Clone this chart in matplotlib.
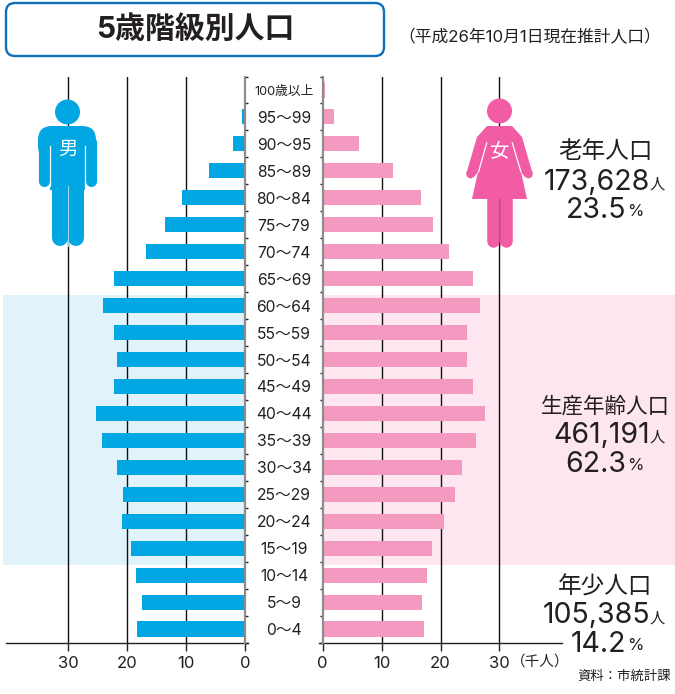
import matplotlib
matplotlib.use("Agg")
import matplotlib.pyplot as plt
from matplotlib.patches import Circle, FancyBboxPatch, Polygon, Rectangle

plt.rcParams['font.family'] = ['Inter', 'Noto Sans CJK JP', 'DejaVu Sans']

# data, youngest group first (thousands of people)
ages = ['0～4', '5～9', '10～14', '15～19', '20～24', '25～29', '30～34', '35～39',
        '40～44', '45～49', '50～54', '55～59', '60～64', '65～69', '70～74',
        '75～79', '80～84', '85～89', '90～95', '95～99', '100歳以上']
male = [18.3, 17.5, 18.5, 19.3, 20.8, 20.7, 21.7, 24.2, 25.3, 22.2, 21.7,
        22.2, 24.1, 22.2, 16.8, 13.6, 10.7, 6.1, 2.0, 0.5, 0.1]
female = [17.2, 16.9, 17.7, 18.6, 20.6, 22.5, 23.6, 26.0, 27.5, 25.5, 24.5,
          24.5, 26.7, 25.5, 21.4, 18.7, 16.7, 11.9, 6.2, 1.9, 0.4]
x_ticks = [0, 10, 20, 30]

BLUE = '#00a7e3'
PINK = '#f49ac1'
WOMAN = '#f15ca5'
W, H = 675, 694
INK = '#231f20'
GRAY = '#8c8c8c'


def px_axes(x0, y0, x1, y1, **kw):
    # axes placed by pixel box, y measured from the top
    return fig.add_axes([x0 / W, 1 - y1 / H, (x1 - x0) / W, (y1 - y0) / H], **kw)


fig = plt.figure(figsize=(W / 100, H / 100), dpi=100)

# background bands
bg = px_axes(0, 0, W, H, zorder=0)
bg.set_xlim(0, W)
bg.set_ylim(H, 0)
bg.axis('off')
bg.add_patch(Rectangle((3, 295), 242, 270, color='#e0f3fb', lw=0))
bg.add_patch(Rectangle((322, 295), 353, 270, color='#fde6f0', lw=0))

# male side
ax_m = px_axes(6, 76.5, 248.5, 642.5, zorder=1)
ax_m.patch.set_visible(False)
ax_m.barh(range(len(ages)), male, height=0.56, color=BLUE, zorder=3)
ax_m.set_xlim(40.5, -0.6)

# female side
ax_f = px_axes(319, 76.5, 562, 642.5, zorder=1)
ax_f.patch.set_visible(False)
ax_f.barh(range(len(ages)), female, height=0.56, color=PINK, zorder=3)
ax_f.set_xlim(-0.6, 40.6)

for ax in (ax_m, ax_f):
    ax.set_ylim(-0.5, 20.5)
    ax.set_xticks(x_ticks)
    ax.set_yticks([i - 0.5 for i in range(len(ages) + 1)])
    ax.set_yticklabels([])
    ax.tick_params(axis='x', length=6, width=1, color=INK, labelsize=12,
                   labelcolor=INK, pad=4)
    ax.tick_params(axis='y', length=2.5, width=1, color=INK)
    ax.spines['top'].set_visible(False)
    ax.spines['bottom'].set_linewidth(1)
    ax.spines['bottom'].set_color(INK)
    for v in x_ticks[1:]:
        ax.axvline(v, color='#111111', lw=1, zorder=2)

ax_m.spines['left'].set_visible(False)
ax_m.spines['right'].set_position(('data', 0))
ax_m.spines['right'].set_color(GRAY)
ax_m.spines['right'].set_linewidth(1.6)
ax_m.spines['right'].set_zorder(4)
ax_m.yaxis.tick_right()

ax_f.spines['right'].set_visible(False)
ax_f.spines['left'].set_position(('data', 0))
ax_f.spines['left'].set_color(GRAY)
ax_f.spines['left'].set_linewidth(1.6)
ax_f.spines['left'].set_zorder(4)

# everything else on a pixel overlay
fg = px_axes(0, 0, W, H, zorder=5)
fg.patch.set_visible(False)
fg.set_xlim(0, W)
fg.set_ylim(H, 0)
fg.axis('off')

# age labels between the two axes
for i, a in enumerate(ages):
    y = 630.5 - i * 26.95
    fs = 9.2 if a == '100歳以上' else 11.3
    fg.text(284, y, a, ha='center', va='center', fontsize=fs, color=INK)

# title box
fg.add_patch(FancyBboxPatch((12, 9), 366, 41, boxstyle='round,pad=6,rounding_size=9',
                            fc='white', ec='#0f6fb8', lw=1.7))
fg.text(195, 30, '5歳階級別人口', ha='center', va='center', fontsize=21.5,
        fontweight='bold', color=INK)
fg.text(530, 37, '（平成26年10月1日現在推計人口）', ha='center', va='center',
        fontsize=12.1, color=INK)

# man
fg.add_patch(Circle((67.5, 112), 12.5, color=BLUE, lw=0))
fg.add_patch(FancyBboxPatch((52, 140), 30, 6, boxstyle='round,pad=14,rounding_size=14',
                            fc=BLUE, ec='none'))
fg.add_patch(Rectangle((50, 140), 35, 50, color=BLUE, lw=0))
for xa in (43.5, 91):
    fg.plot([xa, xa], [142, 180.5], color=BLUE, lw=8, solid_capstyle='round')
for xl in (59.5, 75.5):
    fg.plot([xl, xl], [188, 238], color=BLUE, lw=11.5, solid_capstyle='round')
fg.plot([67.6, 67.6], [186, 246], color='#bfe8f7', lw=0.6)
for xw in (49.7, 84.7):
    fg.plot([xw, xw], [146, 186], color='white', lw=0.9)
fg.text(67.5, 150, '男', ha='center', va='center', fontsize=14, color='white')

# woman
fg.add_patch(Circle((499.5, 111), 12.5, color=WOMAN, lw=0))
fg.add_patch(Polygon([(487, 126), (512, 126), (522, 137), (532.5, 173), (525, 177),
                      (521, 172), (527, 199), (472, 199), (478, 172), (474, 177),
                      (466.5, 173), (477, 137)], color=WOMAN, lw=0))
for xh in (470.5, 528.5):
    fg.add_patch(Circle((xh, 174), 4.3, color=WOMAN, lw=0))
for xl in (493.2, 506.3):
    fg.plot([xl, xl], [197, 240.5], color=WOMAN, lw=9, solid_capstyle='round')
fg.plot([499.7, 499.7], [199, 246], color='#c94a8a', lw=0.5)
fg.plot([486.7, 478.5], [143, 172], color='white', lw=0.9)
fg.plot([512.3, 521], [143, 172], color='white', lw=0.9)
fg.text(499.5, 151, '女', ha='center', va='center', fontsize=14, color='white')

# group totals
groups = [('老年人口', '173,628', '23.5', 152, 182, 210, 17),
          ('生産年齢人口', '461,191', '62.3', 406, 435, 464, 15.5),
          ('年少人口', '105,385', '14.2', 587, 616, 644, 17)]
for name, total, share, y1, y2, y3, fs in groups:
    fg.text(605, y1, name, ha='center', va='center', fontsize=fs, color=INK)
    fg.text(650, y2, total, ha='right', va='center', fontsize=20.5, color=INK)
    fg.text(650, y2 + 2, '人', ha='left', va='center', fontsize=11, color=INK)
    fg.text(626, y3, share, ha='right', va='center', fontsize=20.5, color=INK)
    fg.text(627, y3 + 1, '%', ha='left', va='center', fontsize=12, color=INK)

fg.text(511, 662, '（千人）', ha='left', va='center', fontsize=10.5, color=INK)
fg.text(577, 677, '資料：市統計課', ha='left', va='center', fontsize=9.6, color=INK)

fig.savefig('out.png', dpi=100)
